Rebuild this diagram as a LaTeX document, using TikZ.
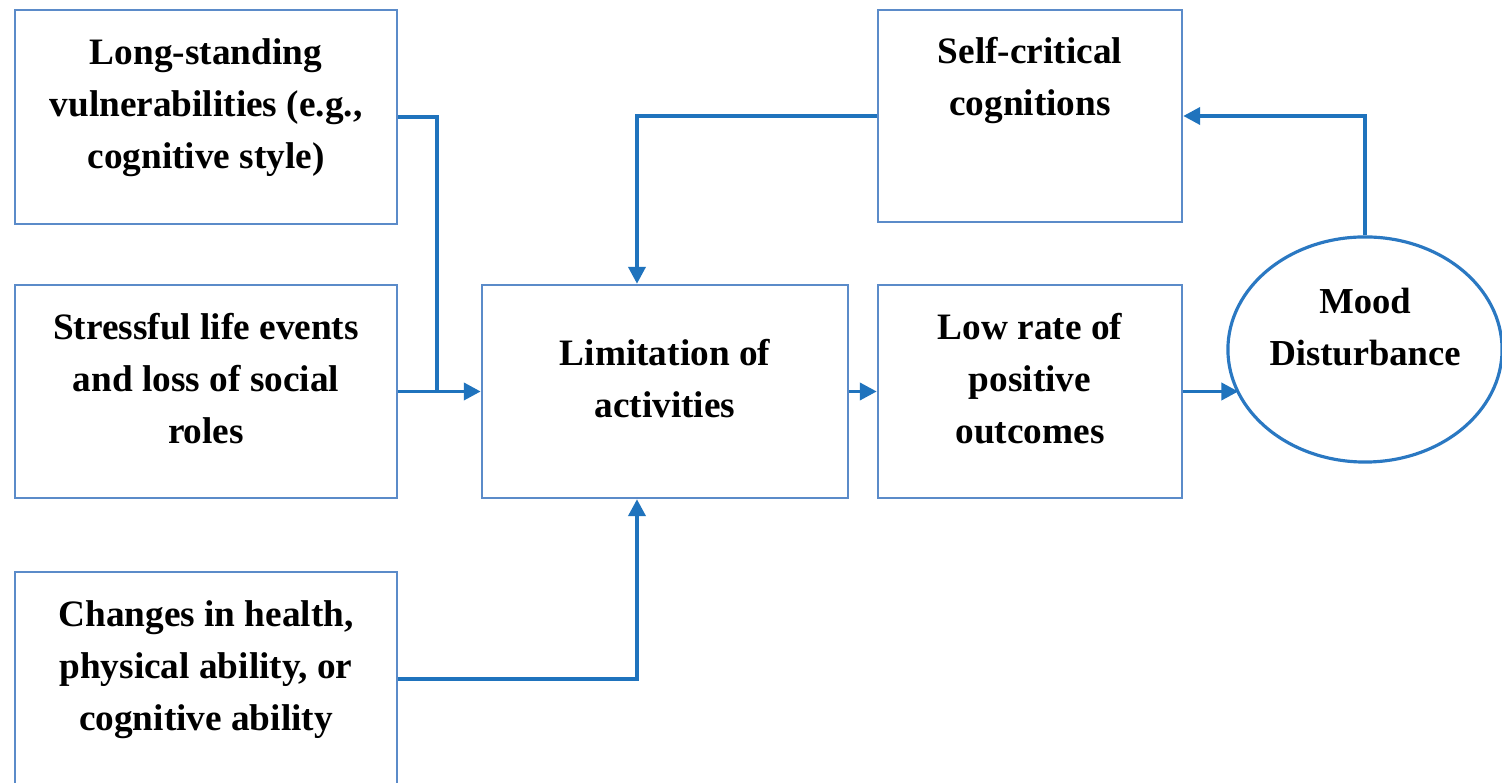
\documentclass[tikz,border=0pt]{standalone}
\usepackage{fontspec}
\setmainfont{Liberation Serif}
\usetikzlibrary{arrows.meta, positioning, calc, shapes.geometric}
\definecolor{boxblue}{HTML}{5B8BC9}
\definecolor{arrblue}{HTML}{1F73BD}
\definecolor{ovalblue}{HTML}{2A78C2}

\begin{document}
\begin{tikzpicture}[
  x=0.01cm, y=-0.01cm,
  >={Triangle[length=4.8pt, width=4.8pt]},
  arr/.style={->, line width=1.1pt, arrblue},
  link/.style={line width=1.1pt, arrblue},
]

% =============================================
% Box styles
% =============================================
\tikzset{
  factorbox/.style 2 args={
    draw=boxblue, line width=0.65pt, fill=white,
    minimum width=#1, minimum height=#2,
    font=\fontsize{10.6}{14.8}\selectfont\bfseries,
    align=center, inner sep=4pt, text depth=0.26cm,
  },
  moodoval/.style={
    ellipse, draw=ovalblue, line width=0.9pt, fill=white,
    minimum width=2.74cm, minimum height=2.25cm,
    font=\fontsize{10.4}{14.8}\selectfont\bfseries,
    align=center, inner sep=0pt, text depth=0.45cm,
  },
}

% =============================================
% Frame
% =============================================
\useasboundingbox (0,0) rectangle (1502,783);
\clip (0,0) rectangle (1502,783);
\fill[white] (0,0) rectangle (1502,783);

% =============================================
% Left column: risk factors
% =============================================
\node[factorbox={3.82cm}{2.14cm}] (vuln) at (206,117)
  {Long-standing\\vulnerabilities (e.g.,\\cognitive style)};
\node[factorbox={3.82cm}{2.13cm}] (stress) at (206,391.5)
  {Stressful life events\\and loss of social\\roles};
\node[factorbox={3.82cm}{2.14cm}] (health) at (206,679)
  {Changes in health,\\physical ability, or\\cognitive ability};

% =============================================
% Middle and right: the cycle
% =============================================
\node[factorbox={3.66cm}{2.13cm}] (limit) at (665,391.5)
  {Limitation of\\activities};
\node[factorbox={3.04cm}{2.13cm}] (lowrate) at (1030,391.5)
  {Low rate of\\positive\\outcomes};
\node[factorbox={3.04cm}{2.12cm}, text depth=0.8cm] (selfcrit) at (1030,116)
  {Self-critical\\cognitions};
\node[moodoval] (mood) at (1365,349.5)
  {Mood\\Disturbance};

% =============================================
% Connectors
% =============================================
\coordinate (join) at (437,391.5);
\draw[link] (vuln.east) -| (join);
\draw[arr] (stress.east) -- (limit.west);
\draw[arr] (health.east) -| ([xshift=-0.28cm]limit.south);
\draw[arr] (selfcrit.west) -| ([xshift=-0.28cm]limit.north);

\draw[arr] (limit.east) -- (lowrate.west);
\draw[arr] (lowrate.east) -- ([xshift=0.12cm]lowrate.east -| mood.west);
\draw[arr] (mood.north) |- (selfcrit.east);

\end{tikzpicture}
\end{document}
